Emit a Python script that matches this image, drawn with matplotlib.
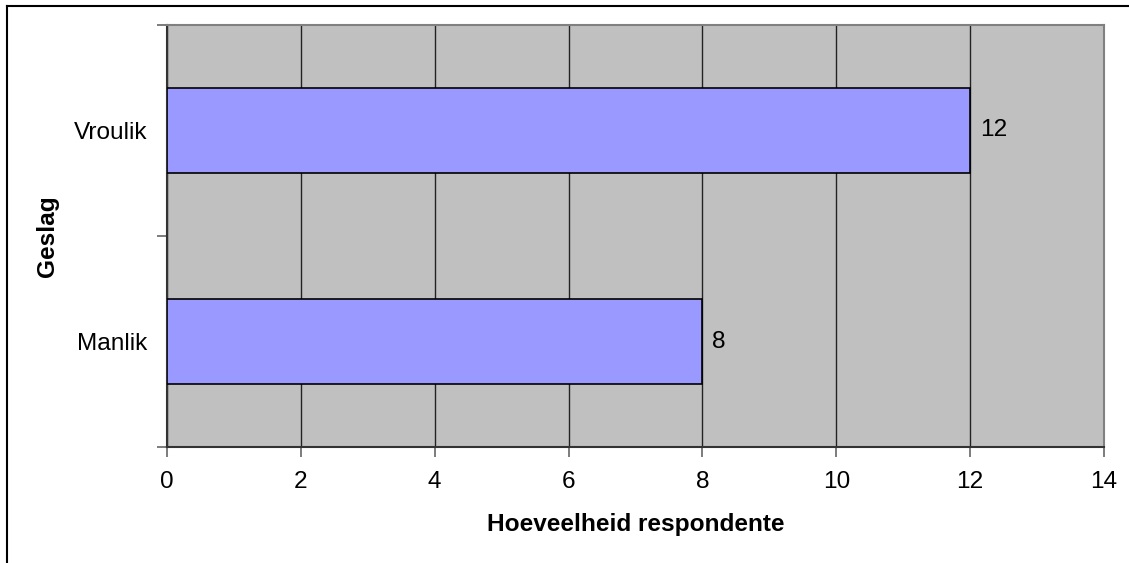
import matplotlib
matplotlib.use("Agg")
import matplotlib.pyplot as plt
from matplotlib.lines import Line2D

categories = ["Manlik", "Vroulik"]
values = [8, 12]
x_ticks = [0, 2, 4, 6, 8, 10, 12, 14]

plt.rcParams['font.family'] = ['Liberation Sans', 'DejaVu Sans']
FS = 17.6

fig = plt.figure(figsize=(11.29, 5.63), dpi=100)
ax = fig.add_axes([167/1129, 1-447/563, (1104-167)/1129, (447-25)/563])
ax.set_facecolor('#C0C0C0')

pos = [i + 0.5 for i in range(len(categories))]
bars = ax.barh(pos, values, height=0.4, color='#9999FF', edgecolor='black', linewidth=1.2, zorder=3)
for p, v in zip(pos, values):
    ax.annotate(str(v), (v, p), xytext=(7, 0), textcoords='offset points',
                ha='left', va='center', fontsize=FS, zorder=4)

ax.set_xlim(0, 14)
ax.set_ylim(0, len(categories))
ax.set_xticks(x_ticks)
ax.set_xticklabels([str(t) for t in x_ticks], fontsize=FS)
ax.xaxis.grid(True, color='#222222', linewidth=1.0, zorder=1)
ax.set_axisbelow(True)

ax.set_yticks(range(len(categories) + 1))
ax.set_yticklabels([])
ax.set_yticks(pos, minor=True)
ax.set_yticklabels(categories, minor=True, fontsize=FS)
ax.tick_params(axis='y', which='minor', length=0, pad=14)
ax.tick_params(axis='y', which='major', length=7, color='#666666', width=1.2)
ax.tick_params(axis='x', which='major', length=7, color='#666666', width=1.2, pad=10)

ax.spines['left'].set_color('#333333')
ax.spines['bottom'].set_color('#333333')
ax.spines['top'].set_color('#808080')
ax.spines['right'].set_color('#808080')
for s in ax.spines.values():
    s.set_linewidth(1.5)

ax.set_xlabel('Hoeveelheid respondente', fontsize=FS, fontweight='bold')
ax.xaxis.set_label_coords(0.5, -(525 - 447) / 422, transform=ax.transAxes)
ax.xaxis.label.set_va('center')
ax.set_ylabel('Geslag', fontsize=FS, fontweight='bold')
ax.yaxis.set_label_coords((48 - 167) / 937, (447 - 236) / 422, transform=ax.transAxes)
ax.yaxis.label.set_va('center')

fig.add_artist(Line2D([7/1129, 7/1129], [0, 1-6/563], color='black', linewidth=1.5, transform=fig.transFigure))
fig.add_artist(Line2D([7/1129, 1], [1-6/563, 1-6/563], color='black', linewidth=1.5, transform=fig.transFigure))

fig.savefig('out.png', dpi=100)
